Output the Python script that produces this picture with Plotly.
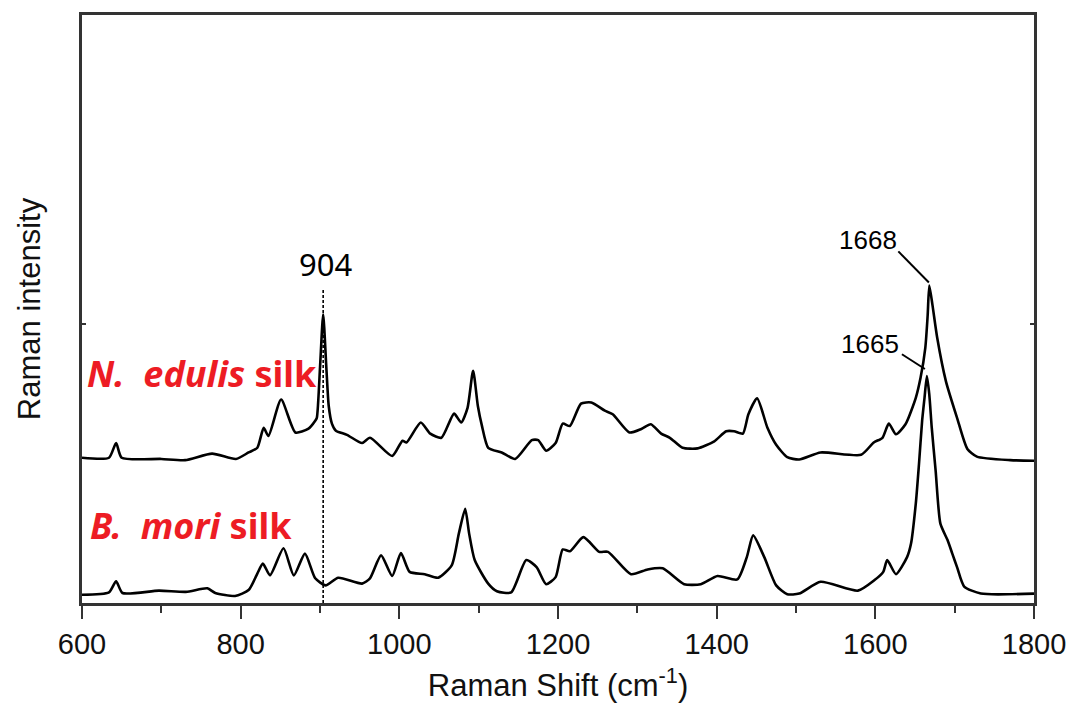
import plotly.graph_objects as go

# ---- data ----
edulis_shift = [600, 634, 643, 650, 700, 730, 764, 794, 810, 821, 829, 835, 851, 869, 885, 894,
                896, 900, 904, 908, 911, 915, 920, 934, 953, 963, 991, 1004, 1009, 1027, 1039,
                1053, 1069, 1078, 1086, 1093, 1099, 1104, 1112, 1129, 1146, 1167, 1175, 1185,
                1197, 1206, 1215, 1229, 1242, 1259, 1269, 1290, 1305, 1317, 1330, 1341, 1357,
                1376, 1397, 1412, 1422, 1433, 1440, 1451, 1464, 1475, 1489, 1504, 1531, 1582,
                1598, 1609, 1617, 1626, 1638, 1651, 1657, 1663, 1666, 1668, 1672, 1678, 1689,
                1703, 1716, 1728, 1770, 1800]
edulis_int = [24.7, 24.7, 27.2, 24.7, 24.5, 24.3, 25.4, 24.5, 25.6, 26.4, 29.8, 28.4, 34.6, 29.0,
              29.6, 31.0, 31.5, 40.0, 49.1, 40.0, 33.5, 30.5, 29.3, 28.6, 27.2, 28.1, 25.0, 27.6,
              27.3, 30.7, 28.8, 28.1, 32.2, 30.7, 33.2, 39.5, 33.5, 30.2, 26.4, 25.6, 24.5, 27.7,
              27.7, 25.9, 27.2, 30.5, 30.1, 33.9, 34.1, 32.7, 32.1, 29.0, 29.6, 30.4, 28.8, 28.1,
              26.4, 26.3, 27.5, 29.2, 29.2, 28.8, 32.1, 34.8, 29.8, 26.9, 24.8, 24.4, 25.6, 25.2,
              27.3, 28.1, 30.5, 28.7, 30.4, 34.9, 38.3, 43.4, 49.0, 54.0, 50.7, 45.1, 37.7, 31.5,
              26.2, 24.9, 24.3, 24.2]

mori_shift = [600, 634, 643, 651, 697, 731, 758, 768, 793, 810, 821, 828, 837, 854, 867, 881, 894,
              907, 923, 953, 963, 977, 991, 1002, 1013, 1032, 1049, 1066, 1075, 1083, 1088, 1095,
              1112, 1123, 1141, 1160, 1173, 1185, 1197, 1206, 1215, 1232, 1252, 1263, 1292, 1313,
              1332, 1359, 1380, 1401, 1426, 1438, 1446, 1460, 1475, 1489, 1504, 1531, 1578, 1599,
              1610, 1615, 1626, 1640, 1645, 1651, 1655, 1659, 1662, 1665, 1668, 1671, 1676, 1682,
              1691, 1697, 1703, 1712, 1733, 1800]
mori_int = [1.4, 1.8, 3.7, 1.7, 2.1, 1.9, 2.5, 1.7, 1.2, 2.2, 5.0, 6.7, 4.7, 9.3, 4.7, 8.4, 4.2,
            3.0, 4.3, 3.3, 4.2, 8.1, 4.6, 8.5, 5.3, 4.9, 4.3, 6.4, 11.8, 16.0, 11.8, 7.3,
            3.3, 2.0, 1.8, 7.3, 6.1, 3.2, 4.4, 9.1, 8.8, 11.2, 8.7, 8.7, 4.9, 5.7,
            5.9, 3.2, 3.2, 4.6, 4.0, 7.8, 11.5, 7.8, 3.0, 1.5, 1.6, 3.6, 2.1, 3.9,
            5.3, 7.3, 4.9, 7.8, 10.1, 16.9, 23.6, 31.0, 34.9, 38.6, 35.5, 30.0, 22.5, 13.5,
            10.7, 8.4, 6.1, 2.8, 1.6, 1.6]

x_ticks = [600, 800, 1000, 1200, 1400, 1600, 1800]
marked_shift = 904
edulis_amide_peak = 1668
mori_amide_peak = 1665

FONT = "Liberation Sans, Arial, sans-serif"
RED = "#ED1C24"

fig = go.Figure()
fig.add_trace(go.Scatter(x=edulis_shift, y=edulis_int, mode="lines",
                         line=dict(color="black", width=2.6, shape="spline", smoothing=0.6),
                         name="N. edulis silk", showlegend=False))
fig.add_trace(go.Scatter(x=mori_shift, y=mori_int, mode="lines",
                         line=dict(color="black", width=2.6, shape="spline", smoothing=0.6),
                         name="B. mori silk", showlegend=False))

# dashed marker line at 904
fig.add_shape(type="line", x0=marked_shift, x1=marked_shift, y0=0, y1=53.5,
              xref="x", yref="y", line=dict(color="black", width=1.6, dash="3px,2px"))
fig.add_annotation(x=marked_shift + 3, y=57.7, text="904", showarrow=False,
                   font=dict(family="Noto Sans", size=31, color="black"))

# peak labels with leader lines
fig.add_shape(type="line", x0=1629, y0=59.8, x1=edulis_amide_peak - 0.5, y1=54.5,
              line=dict(color="black", width=2))
fig.add_annotation(x=1591, y=61.8, text=str(edulis_amide_peak), showarrow=False,
                   font=dict(family=FONT, size=26, color="black"))
fig.add_shape(type="line", x0=1633.5, y0=42.3, x1=mori_amide_peak - 2.5, y1=39.8,
              line=dict(color="black", width=2))
fig.add_annotation(x=1593, y=44.1, text=str(mori_amide_peak), showarrow=False,
                   font=dict(family=FONT, size=26, color="black"))

# red sample labels
fig.add_annotation(xref="paper", yref="paper", x=0.003, y=0.391, xanchor="left", yanchor="middle",
                   text="<b><i>N.\u00a0\u00a0edulis</i> silk</b>", showarrow=False,
                   font=dict(family="Noto Sans", size=36, color=RED))
fig.add_annotation(xref="paper", yref="paper", x=0.006, y=0.132, xanchor="left", yanchor="middle",
                   text="<b><i>B.\u00a0\u00a0mori</i> silk</b>", showarrow=False,
                   font=dict(family="Noto Sans", size=36, color=RED))

fig.update_layout(
    width=1078, height=718,
    margin=dict(l=82, r=42, t=12, b=115),
    paper_bgcolor="white", plot_bgcolor="white",
    font=dict(family=FONT, color="#111"),
    xaxis=dict(range=[600, 1800], tickvals=x_ticks, ticks="outside", ticklen=13, tickwidth=2,
               tickcolor="#333", showline=True, linewidth=2.5, linecolor="#333", mirror=True,
               showgrid=False, zeroline=False, tickfont=dict(size=29, family=FONT, color="#111"),
               minor=dict(dtick=100, ticks="outside", ticklen=7, tickwidth=2, tickcolor="#333"),
               title=dict(text="Raman Shift (cm<sup>-1</sup>)", font=dict(size=31, family=FONT, color="#111"),
                          standoff=16)),
    yaxis=dict(range=[0, 100], tickvals=[47.5], showticklabels=False, ticks="inside", ticklen=4,
               tickwidth=2, tickcolor="#333", showline=True, linewidth=2.5, linecolor="#333",
               mirror="ticks", showgrid=False, zeroline=False,
               title=dict(text="Raman intensity", font=dict(size=31, family=FONT, color="#111"),
                          standoff=30)),
)

fig.write_html("out.html")
